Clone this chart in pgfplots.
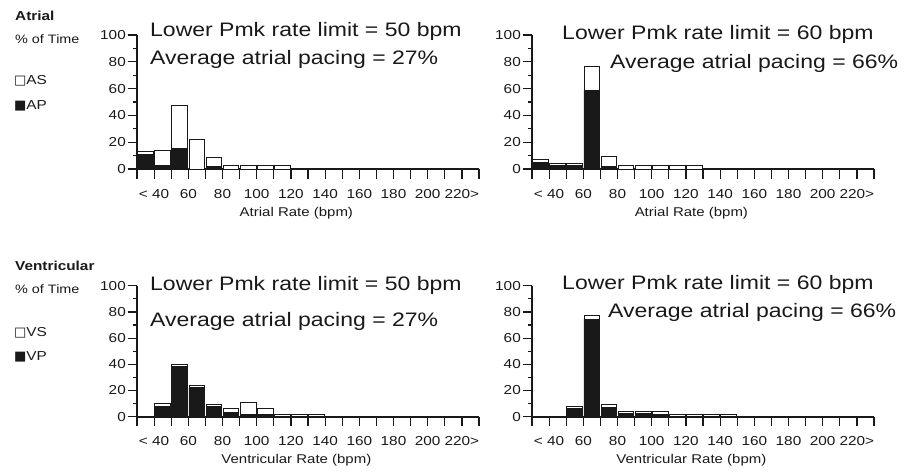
\documentclass[border=0pt]{standalone}
\usepackage{fontspec}
\setmainfont[FakeStretch=1.18]{Liberation Sans}
\newfontfamily\sym[FakeStretch=1.0]{DejaVu Sans}
\usepackage{pgfplots}
\pgfplotsset{compat=1.18}

\definecolor{ink}{gray}{0.1}

\pgfplotsset{
  hist/.style={
    scale only axis,
    width=342pt,
    xmin=30, xmax=230, ymin=0, ymax=100,
    axis lines=left,
    axis line style={-, line width=1.6pt, ink},
    ybar stacked, bar width=9.2,
    xtick={30,40,...,230},
    xticklabels={{},{< 40},{},60,{},80,{},100,{},120,{},140,{},160,{},180,{},200,{},{220>},{}},
    ytick={0,20,...,100},
    minor ytick={10,30,...,90},
    tick align=outside,
    major tick length=9.5pt, minor tick length=4.5pt,
    every tick/.style={line width=1.2pt, ink},
    /pgf/number format/assume math mode=true,
    tick label style={font=\fontsize{13}{15}\selectfont, text=ink},
    yticklabel style={inner sep=1.5pt},
    xticklabel style={yshift=-7pt},
    xlabel style={at={(axis description cs:0.466,-0.333)}, anchor=center,
      font=\fontsize{12.7}{14}\selectfont, text=ink},
    every axis plot/.append style={draw=ink, line width=0.9pt},
  },
}
\tikzset{ann/.style={anchor=base west, inner sep=0pt, font=\fontsize{19.5}{22}\selectfont, text=ink}}

\begin{document}
\begin{tikzpicture}
\useasboundingbox (0,0) rectangle (910pt,472pt);

% ---- top left: atrial, 50 bpm
\begin{axis}[hist, at={(137pt,303pt)}, anchor=south west, height=134pt,
  xlabel={Atrial Rate (bpm)}]
\addplot[fill=ink] coordinates {(35,10.5) (45,2.5) (55,15) (65,0) (75,2) (85,0) (95,0) (105,0) (115,0)};
\addplot[fill=white] coordinates {(35,2.5) (45,11) (55,32.5) (65,22) (75,6.5) (85,2.5) (95,2.5) (105,2.5) (115,2.5)};
\end{axis}

% ---- top right: atrial, 60 bpm
\begin{axis}[hist, at={(532pt,303pt)}, anchor=south west, height=134pt,
  xlabel={Atrial Rate (bpm)}]
\addplot[fill=ink] coordinates {(35,5) (45,2.5) (55,2.5) (65,58.5) (75,2) (85,0) (95,0) (105,0) (115,0) (125,0)};
\addplot[fill=white] coordinates {(35,2) (45,2) (55,2) (65,18) (75,7) (85,2.5) (95,3) (105,2.5) (115,2.5) (125,2.5)};
\end{axis}

% ---- bottom left: ventricular, 50 bpm
\begin{axis}[hist, at={(137pt,55.3pt)}, anchor=south west, height=131pt,
  xlabel={Ventricular Rate (bpm)}]
\addplot[fill=ink] coordinates {(45,8) (55,38) (65,22) (75,7.5) (85,3) (95,1.5) (105,2) (115,0) (125,0) (135,0)};
\addplot[fill=white] coordinates {(45,2) (55,2) (65,2) (75,2) (85,3) (95,9) (105,4) (115,2) (125,2) (135,2)};
\end{axis}

% ---- bottom right: ventricular, 60 bpm
\begin{axis}[hist, at={(532pt,55.3pt)}, anchor=south west, height=131pt,
  xlabel={Ventricular Rate (bpm)}]
\addplot[fill=ink] coordinates {(55,6) (65,74.5) (75,7) (85,2.5) (95,2.5) (105,2) (115,0) (125,0) (135,0) (145,0)};
\addplot[fill=white] coordinates {(55,2) (65,2.5) (75,2.5) (85,1.5) (95,1.5) (105,2) (115,2) (125,2) (135,2) (145,2)};
\end{axis}

% annotations
\node[ann] at (150pt,435.3pt) {Lower Pmk rate limit = 50 bpm};
\node[ann] at (150pt,407pt) {Average atrial pacing = 27\%};
\node[ann] at (562pt,432.7pt) {Lower Pmk rate limit = 60 bpm};
\node[ann] at (610pt,403.7pt) {Average atrial pacing = 66\%};
\node[ann] at (150pt,182pt) {Lower Pmk rate limit = 50 bpm};
\node[ann] at (150pt,146pt) {Average atrial pacing = 27\%};
\node[ann] at (562pt,182.7pt) {Lower Pmk rate limit = 60 bpm};
\node[ann] at (608pt,154.3pt) {Average atrial pacing = 66\%};

% row labels and legends
\begin{scope}[every node/.style={anchor=base west, inner sep=0pt, text=ink}]
\node[font=\fontsize{13}{15}\selectfont\bfseries] at (15pt,451.3pt) {Atrial};
\node[font=\fontsize{12.2}{14}\selectfont] at (15pt,428.7pt) {\% of Time};
\node[font=\fontsize{13}{15}\selectfont] at (14pt,387pt) {{\sym □}AS};
\node[font=\fontsize{13}{15}\selectfont] at (14pt,362.7pt) {{\sym ■}AP};
\node[font=\fontsize{13}{15}\selectfont\bfseries] at (15pt,201.3pt) {Ventricular};
\node[font=\fontsize{12.2}{14}\selectfont] at (15pt,178.7pt) {\% of Time};
\node[font=\fontsize{13}{15}\selectfont] at (14pt,136pt) {{\sym □}VS};
\node[font=\fontsize{13}{15}\selectfont] at (14pt,112pt) {{\sym ■}VP};
\end{scope}
\end{tikzpicture}
\end{document}
